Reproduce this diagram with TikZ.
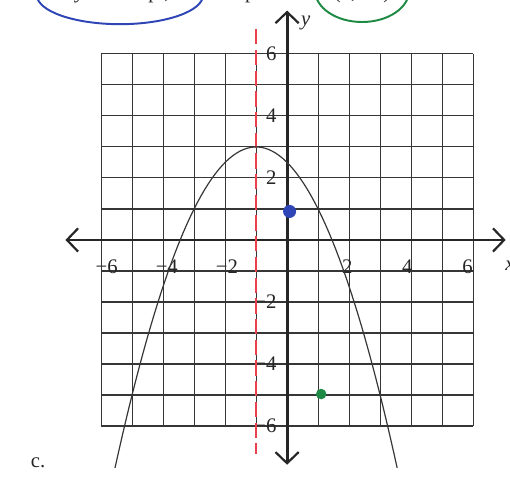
\documentclass[tikz,border=0pt]{standalone}
\usepackage{fontspec}
\setmainfont{Liberation Serif}
\usetikzlibrary{arrows.meta}
\definecolor{axisgray}{HTML}{262626}
\definecolor{gridgray}{HTML}{363636}
\definecolor{symred}{HTML}{E8404C}
\definecolor{yintblue}{HTML}{2F45B5}
\definecolor{ptgreen}{HTML}{1F8A45}
\newcommand{\tickfont}{\fontsize{19}{21}\selectfont}
\newcommand{\parab}[1]{-0.5*(#1+1)^2+3}

\begin{document}
\begin{tikzpicture}[>={Straight Barb[length=3.6mm,width=7.5mm,line width=2pt]},
  axis/.style={axisgray,line width=2.6pt},
  gridln/.style={gridgray,line width=1pt},
  ticklabel/.style={font=\tickfont,text=black!85,inner sep=1pt},
  symline/.style={symred,line width=2.2pt,dash pattern=on 14pt off 5pt},
  oval/.style={line width=1.8pt}]
  \useasboundingbox (-9.26,-7.65) rectangle (7.19,7.74);
  % task line, cut off at the top
  \node[ticklabel,anchor=base] (yint) at (-5.3,7.80) {\textit{y}-intercept,};
  \node[ticklabel,anchor=base] (apt) at (-0.9,7.80) {a point};
  \node[ticklabel,anchor=base] (ptxy) at (2.42,7.80) {(1, −5)};
  \draw[oval,yintblue] (-5.39,7.90) ellipse [x radius=2.68,y radius=0.94];
  \draw[oval,ptgreen] (2.42,8.06) ellipse [x radius=1.52,y radius=1.03];
  % grid
  \draw[gridln] (-6,-6) grid (6,6);
  % axes
  \coordinate (xl) at (-7.15,0);
  \coordinate (xr) at (7.05,0);
  \coordinate (yt) at (0,7.4);
  \coordinate (yb) at (0,-7.25);
  \draw[axis,<->] (xl) -- (xr);
  \draw[axis,<->] (yb) -- (yt);
  \node[ticklabel,font=\tickfont\itshape] (ylab) at (0.6,7.0) {y};
  \node[ticklabel,font=\tickfont\itshape,anchor=west] (xlab) at (7.0,-0.82) {x};
  \foreach \v/\t in {-6/−6,-4/−4,-2/−2,2/2,4/4,6/6}{
    \node[ticklabel] (xt\v) at (0.97*\v,-0.85) {\t};
    \node[ticklabel,anchor=east] (yt\v) at (-0.3,\v) {\t};
  }
  % axis of symmetry
  \coordinate (st) at (-1,6.8);
  \coordinate (sb) at (-1,-6.9);
  \draw[symline] (st) -- (sb);
  % parabola
  \draw[gridgray,line width=1.1pt,domain=-5.55:3.55,samples=80]
    plot (\x,{\parab{\x}});
  % points
  \fill[yintblue] (0.08,0.92) circle (0.21);
  \fill[ptgreen] (1.1,-4.97) circle (0.17);
  \node[ticklabel] (part) at (-8.03,-7.19) {c.};
\end{tikzpicture}
\end{document}
